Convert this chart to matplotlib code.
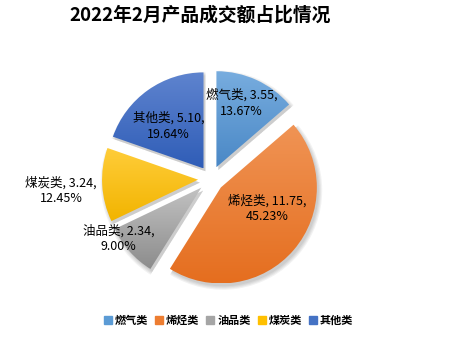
import numpy as np
import matplotlib.pyplot as plt
from matplotlib.colors import to_rgb, LinearSegmentedColormap
from matplotlib.lines import Line2D
from matplotlib.patches import Wedge

plt.rcParams['font.family'] = ['Noto Sans CJK SC', 'DejaVu Sans']

# monthly turnover by product group (amount, share %)
categories = ["燃气类", "烯烃类", "油品类", "煤炭类", "其他类"]
amounts = [3.55, 11.75, 2.34, 3.24, 5.10]
shares = [13.67, 45.23, 9.00, 12.45, 19.64]

base_colors = ["#5B9BD5", "#ED7D31", "#A5A5A5", "#FFC000", "#4472C4"]
top_colors = ["#78ADDF", "#F09455", "#C2C2C2", "#FFCD3A", "#5F84CF"]
bottom_colors = ["#4A88C6", "#E56E1F", "#8C8C8C", "#F2B400", "#2F5DB7"]

# label anchor points in pie units (radius = 1)
label_xy = [(0.32, 0.79), (0.59, -0.31), (-0.96, -0.62), (-1.56, -0.12), (-0.44, 0.55)]


def gradient_fill(ax, wedge, c_top, c_bot):
    ext = wedge.get_path().get_extents()
    cmap = LinearSegmentedColormap.from_list("g", [to_rgb(c_top), to_rgb(c_bot)])
    grad = np.linspace(0, 1, 128).reshape(-1, 1)
    im = ax.imshow(grad, cmap=cmap, origin="upper", aspect="auto",
                   extent=(ext.x0, ext.x1, ext.y0, ext.y1), zorder=2)
    im.set_clip_path(wedge)


fig = plt.figure(figsize=(4.67, 3.49), dpi=100)
ax = fig.add_axes([0.1846, 0.1295, 0.5345, 0.7152])

wedges, _ = ax.pie(shares, startangle=90, counterclock=False,
                   explode=[0.135] * len(shares), radius=1.0,
                   wedgeprops=dict(linewidth=0))

for w, ct, cb in zip(wedges, top_colors, bottom_colors):
    w.set_facecolor("none")
    w.set_zorder(2)
    # soft drop shadow
    cx, cy = w.center
    for k in range(4):
        sh = Wedge((cx + 0.02, cy - 0.03), w.r + 0.012 * k, w.theta1, w.theta2,
                   facecolor="#000000", alpha=0.05, linewidth=0, zorder=1)
        ax.add_patch(sh)
    gradient_fill(ax, w, ct, cb)

for name, amt, pct, (x, y) in zip(categories, amounts, shares, label_xy):
    ax.text(x, y, f"{name}, {amt:.2f},\n{pct:.2f}%", ha="center", va="center",
            fontsize=9, linespacing=1.3, zorder=4, clip_on=False)

ax.set_xlim(-1.3, 1.3)
ax.set_ylim(-1.3, 1.3)
ax.set_aspect("equal")
ax.axis("off")

fig.text(0.428, 0.957, "2022年2月产品成交额占比情况", ha="center", va="center",
         fontsize=13.5, fontweight="bold")

handles = [Line2D([], [], marker="s", linestyle="", markersize=5.5,
                  markerfacecolor=c, markeredgecolor=c) for c in base_colors]
fig.legend(handles, categories, loc="center", bbox_to_anchor=(0.49, 0.083),
           ncol=5, frameon=False, handlelength=0.6, handletextpad=0.3,
           columnspacing=0.7, prop=dict(size=8, weight="bold"))

fig.savefig("out.png", dpi=100)
